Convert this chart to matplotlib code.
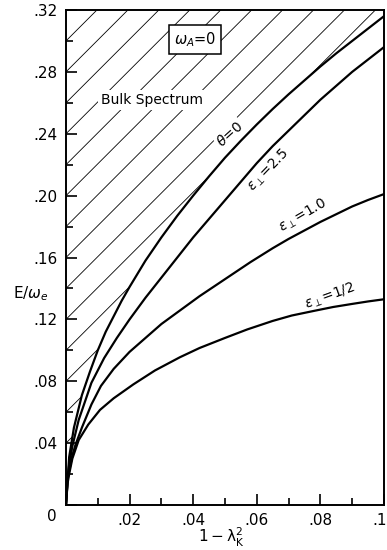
import numpy as np
import matplotlib
matplotlib.use('Agg')
import matplotlib.pyplot as plt
from matplotlib.patches import Polygon
from matplotlib.ticker import MultipleLocator, FuncFormatter

plt.rcParams['font.family'] = ['DejaVu Sans']
plt.rcParams['mathtext.fontset'] = 'dejavusans'

# curves: x = 1 - lambda_K^2, y = E / omega_e
x_theta0 = [0, 0.001, 0.0025, 0.005, 0.0075, 0.01, 0.0125, 0.015, 0.0175, 0.02,
            0.025, 0.03, 0.035, 0.04, 0.045, 0.05, 0.055, 0.06, 0.065, 0.07,
            0.075, 0.08, 0.085, 0.09, 0.095, 0.10]
y_theta0 = [0, 0.031, 0.050, 0.071, 0.086, 0.100, 0.112, 0.122, 0.132, 0.141,
            0.158, 0.173, 0.187, 0.200, 0.2125, 0.2245, 0.2355, 0.246, 0.256, 0.2655,
            0.2745, 0.2835, 0.292, 0.300, 0.308, 0.316]

x_eps25 = [0, 0.0005, 0.001, 0.002, 0.004, 0.008, 0.012, 0.016, 0.02, 0.025,
           0.03, 0.035, 0.04, 0.045, 0.05, 0.055, 0.06, 0.065, 0.07, 0.075,
           0.08, 0.085, 0.09, 0.095, 0.10]
y_eps25 = [0, 0.018, 0.026, 0.038, 0.055, 0.079, 0.095, 0.108, 0.120, 0.134,
           0.147, 0.160, 0.173, 0.185, 0.197, 0.209, 0.221, 0.232, 0.242, 0.252,
           0.262, 0.271, 0.280, 0.288, 0.296]

x_eps10 = [0, 0.0005, 0.001, 0.002, 0.003, 0.005, 0.008, 0.011, 0.015, 0.02,
           0.025, 0.03, 0.036, 0.042, 0.05, 0.058, 0.065, 0.07, 0.075, 0.08,
           0.085, 0.09, 0.095, 0.10]
y_eps10 = [0, 0.016, 0.022, 0.032, 0.039, 0.050, 0.065, 0.077, 0.088, 0.099,
           0.108, 0.117, 0.126, 0.135, 0.146, 0.157, 0.166, 0.172, 0.1775, 0.183,
           0.188, 0.193, 0.1972, 0.201]

x_eps05 = [0, 0.0005, 0.001, 0.002, 0.004, 0.007, 0.0107, 0.015, 0.0212, 0.028,
           0.0358, 0.042, 0.05, 0.057, 0.065, 0.071, 0.078, 0.084, 0.09, 0.095, 0.10]
y_eps05 = [0, 0.014, 0.020, 0.030, 0.042, 0.052, 0.0615, 0.069, 0.078, 0.087,
           0.0955, 0.1015, 0.108, 0.1135, 0.119, 0.1225, 0.1255, 0.128, 0.130, 0.1316, 0.133]

fig = plt.figure(figsize=(3.87, 5.5), dpi=100)
ax = fig.add_axes([0.1705, 0.0818, 0.8217, 0.9])
ax.set_xlim(0, 0.10)
ax.set_ylim(0, 0.32)

# bulk spectrum: hatched region above the theta = 0 curve
verts = list(zip(x_theta0, y_theta0)) + [(0.10, 0.32), (0, 0.32)]
region = Polygon(verts, closed=True, facecolor='none', edgecolor='none')
ax.add_patch(region)
fig_w, fig_h = fig.get_size_inches() * fig.dpi
slope = (0.32 / (0.9 * fig_h)) / (0.10 / (0.8217 * fig_w))  # 45 deg on screen
for c in np.arange(0.02, 0.56, 0.02):
    ln, = ax.plot([0, 0.10], [c, c + slope * 0.10], color='black', lw=0.6, zorder=1)
    ln.set_clip_path(region)

for xs, ys in [(x_theta0, y_theta0), (x_eps25, y_eps25),
               (x_eps10, y_eps10), (x_eps05, y_eps05)]:
    ax.plot(xs, ys, color='black', lw=1.6, zorder=3, solid_joinstyle='round')

# labels
ax.text(0.027, 0.262, 'Bulk Spectrum', fontsize=10, ha='center', va='center',
        bbox=dict(facecolor='white', edgecolor='none', pad=2), zorder=2)
ax.text(0.0407, 0.301, r'$\omega_A$=0', fontsize=10.5, ha='center', va='center',
        bbox=dict(facecolor='white', edgecolor='black', lw=1.1, pad=3.5), zorder=4)
ax.text(0.0515, 0.240, r'$\theta$=0', fontsize=10, ha='center', va='center',
        rotation=42, rotation_mode='anchor',
        bbox=dict(facecolor='white', edgecolor='none', pad=1), zorder=2)
ax.text(0.0638, 0.2165, r'$\epsilon_\perp$=2.5', fontsize=10, ha='center', va='center',
        rotation=46, rotation_mode='anchor', zorder=4)
ax.text(0.0746, 0.187, r'$\epsilon_\perp$=1.0', fontsize=10, ha='center', va='center',
        rotation=30, rotation_mode='anchor', zorder=4)
ax.text(0.083, 0.135, r'$\epsilon_\perp$=1/2', fontsize=10, ha='center', va='center',
        rotation=20, rotation_mode='anchor', zorder=4)

# axes styling
for s in ax.spines.values():
    s.set_linewidth(1.4)
ax.xaxis.set_major_locator(MultipleLocator(0.02))
ax.xaxis.set_minor_locator(MultipleLocator(0.01))
ax.yaxis.set_major_locator(MultipleLocator(0.04))
ax.yaxis.set_minor_locator(MultipleLocator(0.02))
fmt = FuncFormatter(lambda v, p: '' if abs(v) < 1e-9 else f'{v:.2f}'.lstrip('0'))
ax.xaxis.set_major_formatter(fmt)
ax.yaxis.set_major_formatter(fmt)
ax.tick_params(which='both', direction='in', top=False, right=False, width=1.2,
               labelsize=11, pad=6)
ax.tick_params(which='major', length=8)
ax.tick_params(which='minor', length=5)
ax.text(-0.044, -0.024, '0', transform=ax.transAxes, fontsize=11,
        ha='center', va='center')

ax.set_ylabel(r'E/$\omega_e$', rotation=0, fontsize=11, ha='center', va='center')
ax.yaxis.set_label_coords(-0.11, 0.426)
ax.set_xlabel(r'$\mathregular{1-\lambda_K^2}$', fontsize=11)
ax.xaxis.set_label_coords(0.49, -0.042)

fig.savefig('out.png', dpi=100)
